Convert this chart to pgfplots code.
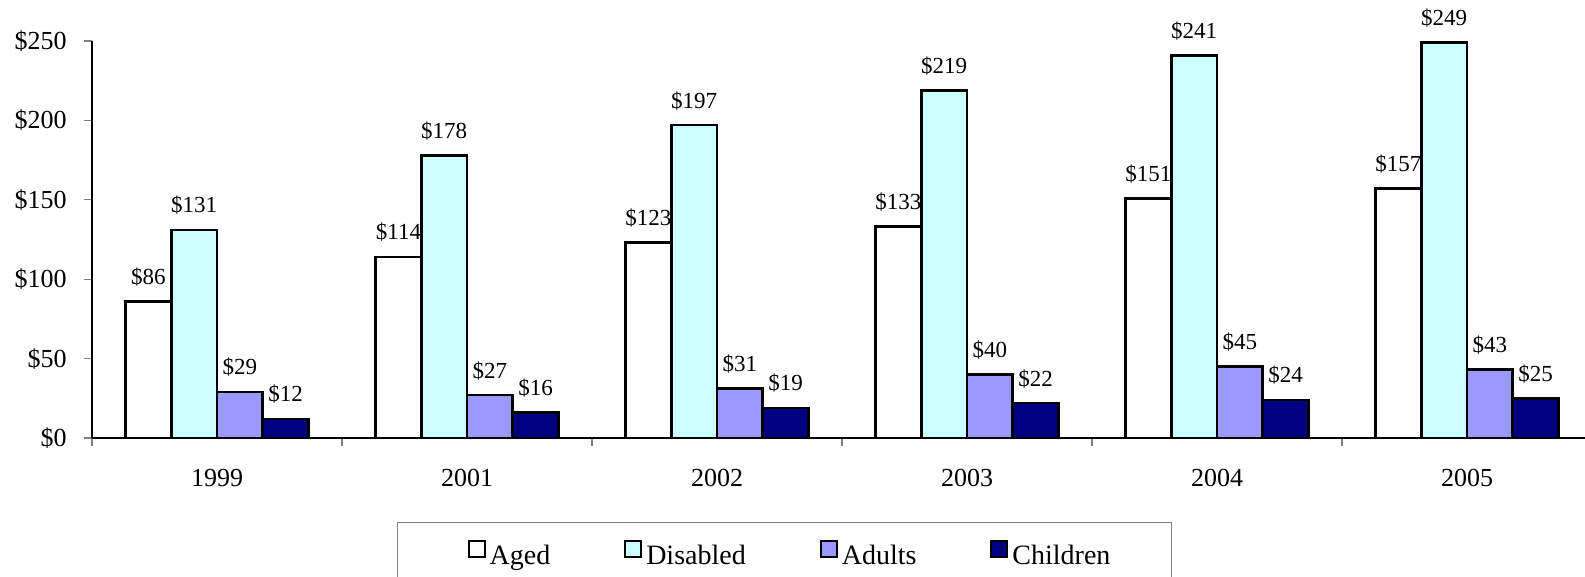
\documentclass[border=0pt]{standalone}
\usepackage{pgfplots}
\pgfplotsset{compat=1.18}
\usepackage{fontspec}
\setmainfont{Liberation Serif}
\definecolor{cDis}{RGB}{204,255,255}
\definecolor{cAd}{RGB}{153,153,255}
\definecolor{cCh}{RGB}{0,0,128}
\begin{document}
\begin{tikzpicture}
\begin{axis}[
  at={(46pt,69.5pt)}, anchor=south west,
  scale only axis, width=746.5pt, height=198.5pt,
  xmin=-0.5, xmax=5.472, ymin=0, ymax=250,
  clip=false,
  ybar=0pt, bar width=22.85pt,
  axis lines*=left,
  axis line style={line width=0.6pt, black},
  /pgf/number format/assume math mode=true,
  xtick={0,...,5}, xticklabels={1999,2001,2002,2003,2004,2005},
  major x tick style={draw=none},
  minor xtick={-0.5,0.5,1.5,2.5,3.5,4.5},
  minor tick length=4pt,
  major tick length=4pt,
  tick align=outside,
  minor x tick style={gray, line width=0.6pt},
  ytick={0,50,...,250}, yticklabels={\$0,\$50,\$100,\$150,\$200,\$250},
  y tick style={gray, line width=0.6pt},
  yticklabel style={font=\fontsize{13}{15}\selectfont, anchor=east, inner sep=0pt, xshift=-8.5pt},
  xticklabel style={font=\fontsize{13}{15}\selectfont, anchor=base, inner sep=0pt, yshift=-20.5pt},
  nodes near coords={\$\pgfmathprintnumber{\pgfplotspointmeta}},
  every node near coord/.append style={font=\fontsize{11.5}{13}\selectfont, anchor=base, inner sep=0pt, yshift=8.5pt, text=black},
  every axis plot post/.append style={
    legend image code/.code={\draw[#1, line width=1pt] (0pt,0pt) rectangle (8pt,8pt);}},
  legend style={at={(0,0)}, anchor=north west, xshift=152.5pt, yshift=-42pt,
    draw=gray, line width=0.6pt, legend columns=4,
    font=\fontsize{14}{16}\selectfont, inner xsep=35pt, inner ysep=8.5pt,
    /tikz/every even column/.append style={column sep=35pt}},
  legend cell align=left,
]
\addplot[draw=black, fill=white, line width=1.3pt] coordinates {(0,86) (1,114) (2,123) (3,133) (4,151) (5,157)};
\addplot[draw=black, fill=cDis, line width=1.3pt] coordinates {(0,131) (1,178) (2,197) (3,219) (4,241) (5,249)};
\addplot[draw=black, fill=cAd, line width=1.3pt] coordinates {(0,29) (1,27) (2,31) (3,40) (4,45) (5,43)};
\addplot[draw=black, fill=cCh, line width=1.3pt] coordinates {(0,12) (1,16) (2,19) (3,22) (4,24) (5,25)};
\legend{Aged,Disabled,Adults,Children\hspace*{-6.5pt}}
\end{axis}
\pgfresetboundingbox
\useasboundingbox (0,0) rectangle (792.5pt,288.5pt);
\end{tikzpicture}
\end{document}
